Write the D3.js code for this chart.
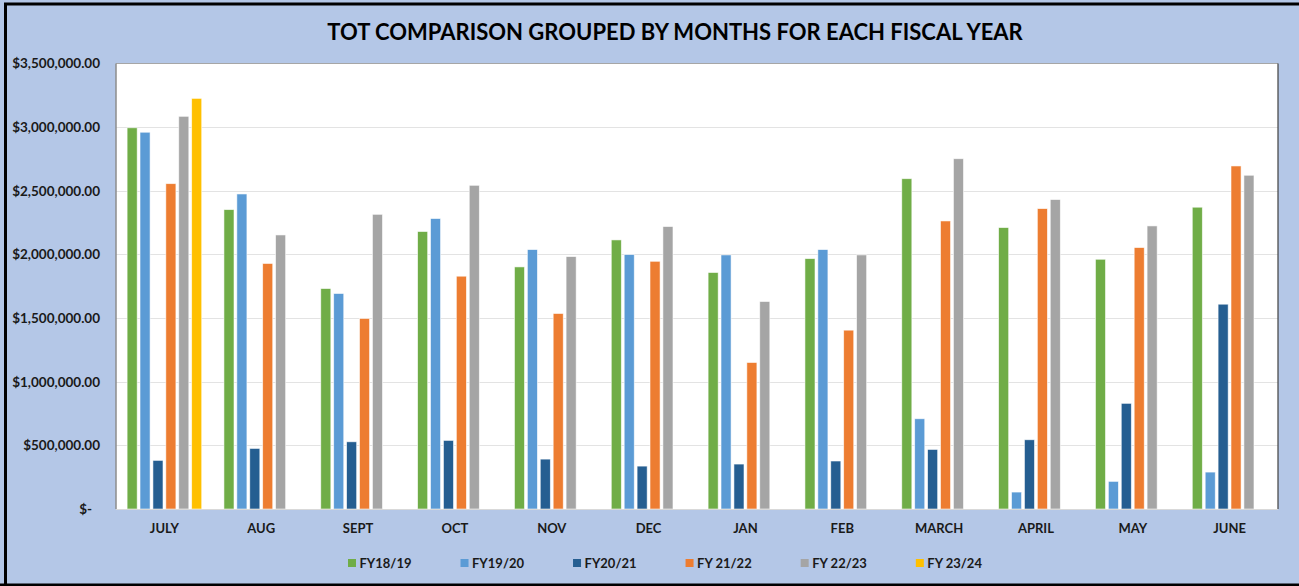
<!DOCTYPE html>
<html>
<head>
<meta charset="utf-8">
<script src="https://cdn.jsdelivr.net/npm/d3@7"></script>
<style>
	html, body { margin: 0; padding: 0; background: #fff; }
	svg { display: block; font-family: Lato, "Open Sans", sans-serif; }
</style>
</head>
<body>
<div id="viz-holder"></div>
<script>
// months on the x axis
let months = ["JULY", "AUG", "SEPT", "OCT", "NOV", "DEC", "JAN", "FEB", "MARCH", "APRIL", "MAY", "JUNE"];

// fiscal years (legend names)
let fiscalYears = ["FY18/19", "FY19/20", "FY20/21", "FY 21/22", "FY 22/23", "FY 23/24"];
let yearColors = ["#70AD47", "#5B9BD5", "#255E91", "#ED7D31", "#A5A5A5", "#FFC000"];

// values per fiscal year, july -> june
let fy1819 = [2995000, 2352000, 1732000, 2180000, 1902000, 2114000, 1858000, 1967000, 2595000, 2211000, 1962000, 2371000];
let fy1920 = [2960000, 2475000, 1693000, 2282000, 2038000, 1999000, 1996000, 2038000, 709000, 133000, 217000, 290000];
let fy2021 = [382000, 476000, 528000, 539000, 392000, 337000, 353000, 377000, 468000, 544000, 830000, 1609000];
let fy2122 = [2556000, 1929000, 1497000, 1829000, 1536000, 1946000, 1151000, 1405000, 2263000, 2360000, 2054000, 2695000];
let fy2223 = [3085000, 2153000, 2315000, 2543000, 1983000, 2219000, 1630000, 1996000, 2752000, 2431000, 2224000, 2622000];
let fy2324 = [3226000, null, null, null, null, null, null, null, null, null, null, null];

// y axis ticks
let yTicks = [0, 500000, 1000000, 1500000, 2000000, 2500000, 3000000, 3500000];

let seriesValues = [fy1819, fy1920, fy2021, fy2122, fy2223, fy2324];

let width = 1299;
let height = 586;
let plot = {left: 116, right: 1278, top: 63.5, bottom: 509};

let svg = d3.select('#viz-holder')
	.append('svg')
	.attr('width', width)
	.attr('height', height);

// chart background + black frame
svg.append('rect')
	.attr('x', 0).attr('y', 0)
	.attr('width', width).attr('height', height)
	.attr('fill', '#B4C7E7');

svg.append('path')
	.attr('d', 'M5.5,' + height + ' V4 H' + width)
	.attr('fill', 'none')
	.attr('stroke', '#000')
	.attr('stroke-width', 3);

svg.append('line')
	.attr('x1', 0).attr('x2', width)
	.attr('y1', 585).attr('y2', 585)
	.attr('stroke', '#000')
	.attr('stroke-width', 3);

svg.append('text')
	.attr('x', 675)
	.attr('y', 40)
	.attr('text-anchor', 'middle')
	.attr('font-size', 22)
	.attr('font-weight', 'bold')
	.attr('fill', '#000')
	.text('TOT COMPARISON GROUPED BY MONTHS FOR EACH FISCAL YEAR');

// plot area
svg.append('rect')
	.attr('x', plot.left).attr('y', plot.top)
	.attr('width', plot.right - plot.left)
	.attr('height', plot.bottom - plot.top)
	.attr('fill', '#fff');

let x0 = d3.scaleBand()
	.domain(months)
	.range([plot.left, plot.right])
	.paddingInner(0.2)
	.paddingOuter(0.1);

let x1 = d3.scaleBand()
	.domain(fiscalYears)
	.range([0, x0.bandwidth()])
	.paddingInner(0.22)
	.paddingOuter(0.11);

let y = d3.scaleLinear()
	.domain([0, 3500000])
	.range([plot.bottom, plot.top]);

let money = d3.format(',.2f');

// gridlines
svg.append('g')
	.selectAll('line')
	.data(yTicks.filter(d => d > 0 && d < 3500000))
	.enter()
	.append('line')
	.attr('x1', plot.left).attr('x2', plot.right)
	.attr('y1', d => Math.round(y(d)) + 0.5)
	.attr('y2', d => Math.round(y(d)) + 0.5)
	.attr('stroke', '#E3E3E3')
	.attr('stroke-width', 1.2);

// y axis labels
let yAxis = d3.axisLeft(y)
	.tickValues(yTicks)
	.tickSize(0)
	.tickPadding(16)
	.tickFormat(d => d === 0 ? '$-' : '$' + money(d));

let yG = svg.append('g')
	.attr('transform', 'translate(' + plot.left + ',0)')
	.call(yAxis);
yG.select('.domain').remove();
yG.selectAll('text')
	.attr('font-family', 'Lato, sans-serif')
	.attr('font-size', 13.5)
	.attr('font-weight', 'bold')
	.attr('fill', '#1a1a1a')
	.attr('dx', d => d === 0 ? -8 : 0);

// bars
let rows = months.map((m, i) => {
	return {month: m, values: fiscalYears.map((fy, j) => ({fy: fy, color: yearColors[j], value: seriesValues[j][i]}))};
});

let groups = svg.append('g')
	.selectAll('.group')
	.data(rows)
	.enter()
	.append('g')
	.attr('class', 'group')
	.attr('transform', d => 'translate(' + x0(d.month) + ',0)');

groups.selectAll('rect')
	.data(d => d.values.filter(v => v.value != null))
	.enter()
	.append('rect')
	.attr('x', d => x1(d.fy))
	.attr('y', d => y(d.value))
	.attr('width', x1.bandwidth())
	.attr('height', d => y(0) - y(d.value))
	.attr('fill', d => d.color)
	.attr('stroke', 'rgba(255,255,255,0.7)')
	.attr('stroke-width', 0.8);

// plot frame
svg.append('line')
	.attr('x1', plot.left).attr('x2', plot.right)
	.attr('y1', plot.top).attr('y2', plot.top)
	.attr('stroke', '#A6A6A6');
svg.append('line')
	.attr('x1', plot.left).attr('x2', plot.left)
	.attr('y1', plot.top).attr('y2', plot.bottom)
	.attr('stroke', '#8C8C8C')
	.attr('stroke-width', 1.5);
svg.append('line')
	.attr('x1', plot.right).attr('x2', plot.right)
	.attr('y1', plot.top).attr('y2', plot.bottom)
	.attr('stroke', '#404040')
	.attr('stroke-width', 1.2);
svg.append('line')
	.attr('x1', plot.left).attr('x2', plot.right)
	.attr('y1', plot.bottom + 0.5).attr('y2', plot.bottom + 0.5)
	.attr('stroke', '#D9D9D9');

// x axis labels
let xAxis = d3.axisBottom(x0)
	.tickSize(0)
	.tickPadding(15);

let xG = svg.append('g')
	.attr('transform', 'translate(0,' + plot.bottom + ')')
	.call(xAxis);
xG.select('.domain').remove();
xG.selectAll('text')
	.attr('font-family', 'Lato, sans-serif')
	.attr('font-size', 13)
	.attr('font-weight', 'bold')
	.attr('fill', '#1a1a1a');

// legend
let legend = svg.append('g');
let lx = 348;
fiscalYears.forEach((fy, i) => {
	legend.append('rect')
		.attr('x', lx).attr('y', 559)
		.attr('width', 8).attr('height', 8)
		.attr('fill', yearColors[i]);
	let t = legend.append('text')
		.attr('x', lx + 11.5)
		.attr('y', 567.5)
		.attr('font-size', 13)
		.attr('font-weight', 'bold')
		.attr('fill', '#1a1a1a')
		.text(fy);
	lx = lx + 11.5 + t.node().getComputedTextLength() + 49;
});
</script>
</body>
</html>
